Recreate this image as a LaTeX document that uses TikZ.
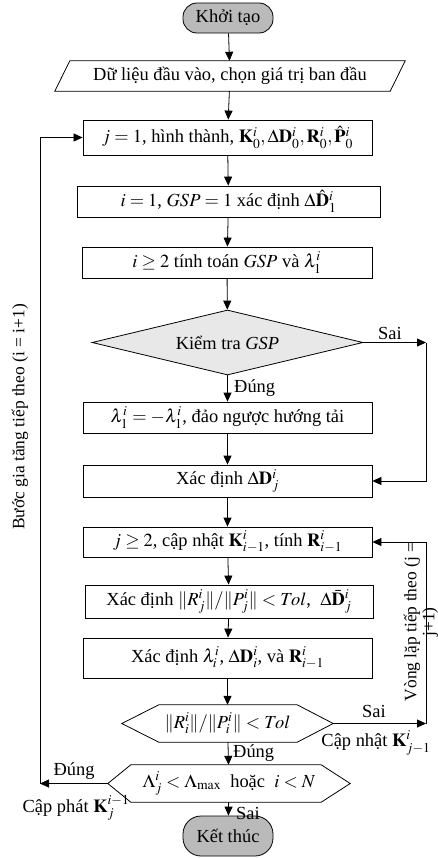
\documentclass[tikz,border=0pt]{standalone}
\usepackage{mathptmx}
\usepackage{fontspec}
\setmainfont{Liberation Serif}
\usetikzlibrary{arrows.meta,shapes.geometric,calc}
\begin{document}
\begin{tikzpicture}[x=1bp,y=-1bp,
  every node/.style={font=\fontsize{18.5}{21}\selectfont},
  line/.style={line width=0.8bp},
  arr/.style={line width=0.8bp,-{Triangle[length=9bp,width=8bp]}},
  stepbox/.style={draw,line width=0.8bp,inner sep=0pt,minimum width=289bp,minimum height=31bp},
  term/.style={draw,line width=0.8bp,fill=black!27,rounded corners=14bp,inner sep=0pt,minimum width=90bp,minimum height=30bp},
  hexnode/.style={inner sep=0pt,minimum height=37bp},
  lbl/.style={inner sep=0pt}
]
\useasboundingbox (0,0) rectangle (438,858);
\fill[white] (0,0) rectangle (438,858);

% nodes
\node[term] (start) at (228,18) {Khởi tạo};
\node[inner sep=0pt,minimum width=350bp,minimum height=30bp] (par) at (230,76) {Dữ liệu đầu vào, chọn giá trị ban đầu};
\draw[line] ($(par.north west)+(15,0)$) -- (par.north east) -- ($(par.south east)+(-15,0)$) -- (par.south west) -- cycle;

\node[stepbox,minimum height=35bp] (b1) at (227.5,137.5) {$j=1$, hình thành, $\mathbf{K}_0^i,\Delta\mathbf{D}_0^i,\mathbf{R}_0^i,\hat{\mathbf{P}}_0^i$};
\node[stepbox,minimum width=303bp] (b2) at (228.5,201.5) {$i=1$, $GSP=1$ xác định $\Delta\hat{\mathbf{D}}_1^i$};
\node[stepbox,minimum width=290bp] (b3) at (227,262.5) {$i\geq 2$ tính toán $GSP$ và $\lambda_1^i$};
\node[draw,line width=0.8bp,fill=black!9,diamond,aspect=4.17,inner sep=0pt,minimum width=271bp,minimum height=65bp] (dia) at (227.5,342.5) {Kiểm tra \textit{GSP}};
\node[stepbox] (b4) at (227.5,417.5) {$\lambda_1^i=-\lambda_1^i$, đảo ngược hướng tải};
\node[stepbox,minimum height=32bp] (b5) at (227.5,481) {Xác định $\Delta\mathbf{D}_j^i$};
\node[stepbox,minimum height=30bp] (b6) at (227.5,542) {$j\geq 2$, cập nhật $\mathbf{K}_{i-1}^i$, tính $\mathbf{R}_{i-1}^i$};
\node[stepbox,minimum width=288bp,minimum height=33bp] (b7) at (229,601.5) {Xác định $\|R_j^i\|/\|P_j^i\|<Tol$, \ $\Delta\bar{\mathbf{D}}_j^i$};
\node[stepbox,minimum height=40bp] (b8) at (227.5,658) {Xác định $\lambda_i^i$, $\Delta\mathbf{D}_i^i$, và $\mathbf{R}_{i-1}^i$};

\node[hexnode,minimum width=211bp] (h1) at (227.5,723.5) {$\|R_i^i\|/\|P_i^i\|<Tol$};
\draw[line] (h1.west) -- ($(h1.north west)+(37,0)$) -- ($(h1.north east)+(-36,0)$) -- (h1.east) -- ($(h1.south east)+(-36,0)$) -- ($(h1.south west)+(37,0)$) -- cycle;
\node[hexnode,minimum width=242bp] (h2) at (229,783.5) {$\Lambda_j^i<\Lambda_{\max}$ \ hoặc \ $i<N$};
\draw[line] (h2.west) -- ($(h2.north west)+(23,0)$) -- ($(h2.north east)+(-29,0)$) -- (h2.east) -- ($(h2.south east)+(-29,0)$) -- ($(h2.south west)+(23,0)$) -- cycle;

\node[term,minimum height=40bp,rounded corners=18bp] (end) at (228,836) {Kết thúc};

% main flow
\draw[arr] (start) -- (par);
\draw[arr] (par) -- (b1);
\draw[arr] (b1) -- (b2);
\draw[arr] (b2) -- (b3);
\draw[arr] (b3) -- (dia);
\draw[arr] (dia) -- (b4);
\draw[arr] (b4) -- (b5);
\draw[arr] (b5) -- (b6);
\draw[arr] (b6) -- (b7);
\draw[arr] (b7) -- (b8);
\draw[arr] (b8) -- (h1);
\draw[arr] (h1) -- (h2);
\draw[arr] (h2) -- (end);

% right loop 1
\coordinate (r1) at (426,342.5);
\draw[arr] (dia.east) -- (r1);
\draw[arr] (r1) |- (b5.east);
\node[lbl,anchor=south] (sai1) at (390,340) {Sai};

% right loop 2
\coordinate (r2) at (426,723.5);
\draw[arr] (h1.east) -- (r2);
\draw[arr] (r2) |- (b6.east);
\node[lbl] (sai2) at (374,711) {Sai};
\node[lbl] (capnhat) at (376,743) {Cập nhật $\mathbf{K}_{j-1}^i$};
\node[lbl,rotate=90,align=center,font=\fontsize{17.5}{18}\selectfont] (vong) at (421,622) {Vòng lặp tiếp theo (j =\\j+1)};

% left loop
\coordinate (l1) at (40,783.5);
\draw[arr] (h2.west) -- (l1);
\draw[arr] (l1) |- (b1.west);
\node[lbl] (dung3) at (74,771) {Đúng};
\node[lbl] (capphat) at (76,808) {Cập phát $\mathbf{K}_j^{i-1}$};
\node[lbl,rotate=90,font=\fontsize{17.5}{18}\selectfont] (buoc) at (20,417) {Bước gia tăng tiếp theo (i = i+1)};

% vertical labels
\node[lbl,anchor=west] (dung1) at (234,388) {Đúng};
\node[lbl,anchor=west] (dung2) at (233,753.5) {Đúng};
\node[lbl,anchor=west] (sai3) at (236,813.5) {Sai};
\end{tikzpicture}
\end{document}
